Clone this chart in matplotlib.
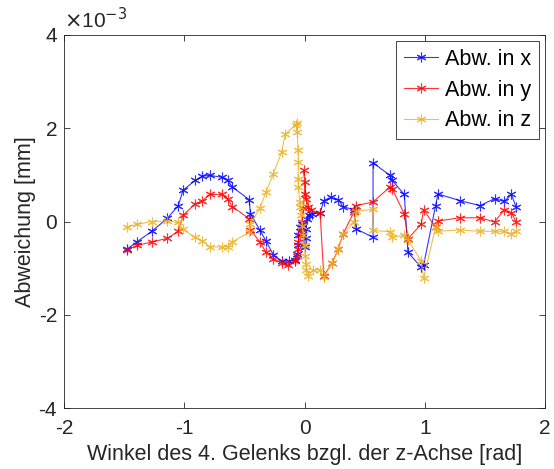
import matplotlib
matplotlib.use("Agg")
import matplotlib.pyplot as plt
import numpy as np

plt.rcParams['font.family'] = ['Liberation Sans', 'DejaVu Sans']
plt.rcParams['axes.unicode_minus'] = False

# Abweichung in x (units of 1e-3 mm)
x_ang = [-1.48, -1.39, -1.27, -1.14, -1.05, -1.01, -0.91, -0.85, -0.79, -0.69, -0.64, -0.60,
         -0.46, -0.45, -0.37, -0.32, -0.26, -0.19, -0.13, -0.075, -0.06, -0.05, -0.05, -0.04,
         -0.02, 0.0, 0.01, 0.01, 0.02, 0.04, 0.06, 0.13, 0.16, 0.22, 0.28, 0.32, 0.41, 0.43,
         0.57, 0.57, 0.71, 0.73, 0.83, 0.86, 0.97, 0.99, 1.09, 1.11, 1.29, 1.46, 1.58, 1.66,
         1.72, 1.76]
x_dev = [-0.60, -0.43, -0.21, 0.07, 0.34, 0.67, 0.88, 0.97, 0.99, 0.95, 0.88, 0.74,
         0.47, 0.17, -0.19, -0.42, -0.71, -0.85, -0.85, -0.82, -0.70, -0.50, -0.30, -0.12,
         -0.05, -0.55, -0.35, -0.15, 0.05, 0.14, 0.16, 0.18, 0.45, 0.52, 0.47, 0.32, 0.25, -0.16,
         -0.34, 1.26, 0.99, 0.88, 0.58, -0.66, -0.98, -0.94, 0.34, 0.59, 0.45, 0.34, 0.49, 0.43,
         0.58, 0.31]

# Abweichung in y
y_ang = [-1.48, -1.39, -1.27, -1.14, -1.05, -1.01, -0.91, -0.85, -0.79, -0.69, -0.64, -0.60,
         -0.46, -0.45, -0.37, -0.32, -0.26, -0.19, -0.14, -0.075, -0.06, -0.055, -0.05, -0.04,
         -0.03, -0.02, -0.01, 0.0, 0.0, -0.005, 0.014, 0.033, 0.055, 0.13, 0.16, 0.23, 0.28,
         0.32, 0.41, 0.43, 0.57, 0.71, 0.73, 0.83, 0.86, 0.97, 0.99, 1.09, 1.11, 1.29, 1.46,
         1.58, 1.66, 1.72, 1.76]
y_dev = [-0.61, -0.51, -0.44, -0.36, -0.21, 0.13, 0.38, 0.44, 0.58, 0.58, 0.49, 0.32,
         0.06, -0.18, -0.44, -0.66, -0.80, -0.89, -0.94, -0.84, -0.73, -0.59, -0.44, -0.30,
         -0.22, 0.0, 0.30, 0.60, 0.85, 1.10, 0.49, 0.31, 0.24, 0.18, -1.16, -0.89, -0.59,
         -0.27, 0.20, 0.34, 0.42, 0.74, 0.70, 0.16, -0.37, -0.06, 0.25, -0.12, 0.01, 0.08, 0.08,
         -0.01, 0.25, 0.19, -0.01]

# Abweichung in z
z_ang = [-1.48, -1.39, -1.27, -1.14, -1.05, -1.01, -0.91, -0.85, -0.79, -0.69, -0.64, -0.60,
         -0.46, -0.45, -0.37, -0.32, -0.26, -0.19, -0.16, -0.067, -0.06, -0.06, -0.055, -0.05,
         -0.055, -0.05, -0.04, -0.035, -0.03, -0.02, -0.01, 0.0, 0.005, 0.01, 0.015, 0.03, 0.07,
         0.125, 0.16, 0.23, 0.28, 0.32, 0.41, 0.43, 0.57, 0.57, 0.71, 0.73, 0.83, 0.86, 0.97,
         0.99, 1.09, 1.11, 1.29, 1.46, 1.58, 1.66, 1.72, 1.76]
z_dev = [-0.12, -0.06, 0.0, 0.01, -0.02, -0.17, -0.34, -0.41, -0.54, -0.55, -0.54, -0.44,
         -0.23, -0.05, 0.29, 0.63, 1.02, 1.49, 1.88, 2.08, 2.12, 1.92, 1.54, 1.27,
         0.92, 0.74, 0.41, 0.31, 0.13, -0.09, -0.30, -0.51, -0.73, -0.91, -1.05, -1.16, -1.05,
         -1.03, -1.19, -0.89, -0.59, -0.27, -0.01, 0.22, 0.26, -0.19, -0.22, -0.34, -0.29, -0.39,
         -0.85, -1.22, -0.12, -0.21, -0.18, -0.21, -0.21, -0.21, -0.26, -0.21]

labels = ['Abw. in x', 'Abw. in y', 'Abw. in z']
colors = ['#0000ff', '#ff0000', '#edb120']

fig = plt.figure(figsize=(5.54, 4.69), dpi=100)
ax = fig.add_axes([0.1155, 0.130, 0.8683, 0.7954])

for a, d, lab, c in zip([x_ang, y_ang, z_ang], [x_dev, y_dev, z_dev], labels, colors):
    ax.plot(a, np.array(d) * 1e-3, '-', marker=(6, 2, 0), color=c, lw=0.8, ms=7, mew=0.8,
            alpha=0.8, label=lab)

ax.set_xlim(-2, 2)
ax.set_ylim(-4e-3, 4e-3)
ax.set_xticks([-2, -1, 0, 1, 2])
ax.set_yticks([-4e-3, -2e-3, 0, 2e-3, 4e-3])
ax.set_yticklabels(['-4', '-2', '0', '2', '4'])
ax.tick_params(direction='in', top=True, right=True, labelsize=15, length=4, width=0.6,
               colors='#262626', labelcolor='#262626')
ax.tick_params(axis='x', pad=8)
ax.tick_params(axis='y', pad=5)
for s in ax.spines.values():
    s.set_linewidth(0.6)
    s.set_color('#262626')

ax.text(0.0, 1.008, r'$\times$10$^{-3}$', transform=ax.transAxes, fontsize=15,
        ha='left', va='bottom', color='#262626')
ax.set_xlabel('Winkel des 4. Gelenks bzgl. der z-Achse [rad]', fontsize=15.5, labelpad=4,
              color='#262626')
ax.set_ylabel('Abweichung [mm]', fontsize=15.5, labelpad=2, color='#262626')

leg = ax.legend(loc='upper right', fontsize=15.5, fancybox=False, framealpha=1,
                edgecolor='#262626', handlelength=1.6, borderaxespad=0.3,
                labelspacing=0.45, handletextpad=0.3, borderpad=0.35)
leg.get_frame().set_linewidth(0.6)
for t in leg.get_texts():
    t.set_color('black')

fig.savefig('out.png', dpi=100)
